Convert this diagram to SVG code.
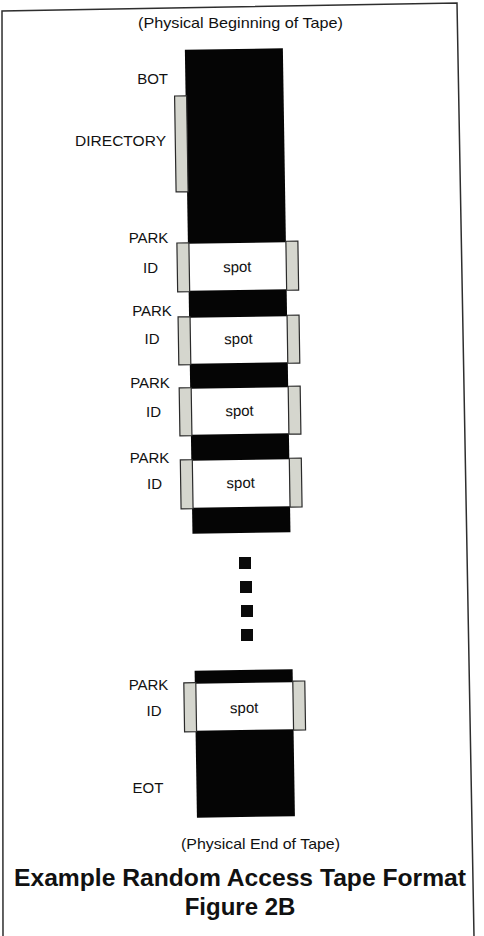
<svg xmlns="http://www.w3.org/2000/svg" width="484" height="936" viewBox="0 0 484 936">
<style>
text{font-family:"Liberation Sans",Arial,sans-serif;fill:#111;}
.lbl{font-size:15px;text-anchor:middle;}
.lbr{font-size:15px;text-anchor:end;}
.tape{fill:#050505;}
.spot{fill:#ffffff;}
.tab{fill:#d5d6ce;stroke:#2a2a2a;stroke-width:1.2;}
.dot{fill:#0a0a0a;}
.title{font-size:24px;font-weight:bold;text-anchor:middle;}
</style>
<rect width="484" height="936" fill="#ffffff"/>
<g id="frame" fill="none" stroke="#2e2e2e" stroke-width="1.5">
<polyline points="3,936 2,11 457,3 474,936"/>
</g>
<text id="bot-caption" x="240.5" y="28" class="lbl" textLength="205" lengthAdjust="spacingAndGlyphs">(Physical Beginning of Tape)</text>
<g id="tape" transform="rotate(-0.9 240 440)">
<g id="tape-upper"><rect class="tape" x="191" y="49" width="98" height="484"/></g>
<g id="directory"><rect class="tab" x="180" y="95" width="12" height="96"/></g>
<g id="spot1"><rect class="spot" x="191" y="243" width="98" height="47"/><rect class="tab" x="180" y="242" width="12" height="49"/><rect class="tab" x="289" y="242" width="12" height="49"/><text class="lbl" x="240" y="272">spot</text></g>
<g id="spot2"><rect class="spot" x="191" y="317" width="98" height="46"/><rect class="tab" x="180" y="316" width="12" height="48"/><rect class="tab" x="289" y="316" width="12" height="48"/><text class="lbl" x="240" y="344">spot</text></g>
<g id="spot3"><rect class="spot" x="191" y="388" width="98" height="46"/><rect class="tab" x="180" y="387" width="12" height="48"/><rect class="tab" x="289" y="387" width="12" height="48"/><text class="lbl" x="240" y="416">spot</text></g>
<g id="spot4"><rect class="spot" x="191" y="460" width="98" height="47"/><rect class="tab" x="180" y="459" width="12" height="49"/><rect class="tab" x="289" y="459" width="12" height="49"/><text class="lbl" x="240" y="488">spot</text></g>
<g id="tape-lower"><rect class="tape" x="191" y="670" width="98" height="147"/></g>
<g id="spot5"><rect class="spot" x="191" y="683" width="98" height="47"/><rect class="tab" x="180" y="682" width="12" height="49"/><rect class="tab" x="289" y="682" width="12" height="49"/><text class="lbl" x="240" y="713">spot</text></g>
</g>
<g id="ellipsis">
<rect class="dot" x="239" y="557" width="12" height="12"/>
<rect class="dot" x="240" y="581" width="12" height="12"/>
<rect class="dot" x="241" y="605" width="12" height="12"/>
<rect class="dot" x="241" y="629" width="12" height="12"/>
</g>
<g id="labels">
<text class="lbr" x="168" y="84">BOT</text>
<text class="lbr" x="166" y="146" textLength="91" lengthAdjust="spacingAndGlyphs">DIRECTORY</text>
<text class="lbl" x="148.5" y="243">PARK</text>
<text class="lbl" x="150.5" y="273">ID</text>
<text class="lbl" x="152" y="316">PARK</text>
<text class="lbl" x="152" y="344">ID</text>
<text class="lbl" x="150" y="388">PARK</text>
<text class="lbl" x="153.5" y="417">ID</text>
<text class="lbl" x="149.5" y="463">PARK</text>
<text class="lbl" x="154.5" y="489">ID</text>
<text class="lbl" x="148.5" y="690">PARK</text>
<text class="lbl" x="154" y="716">ID</text>
<text class="lbl" x="148" y="793">EOT</text>
</g>
<g id="connectors"></g>
<text id="eot-caption" x="260.5" y="849" class="lbl" textLength="159" lengthAdjust="spacingAndGlyphs">(Physical End of Tape)</text>
<text id="title" x="240" y="886" class="title" textLength="452" lengthAdjust="spacingAndGlyphs">Example Random Access Tape Format</text>
<text id="figure" x="240" y="915" class="title">Figure 2B</text>
</svg>
